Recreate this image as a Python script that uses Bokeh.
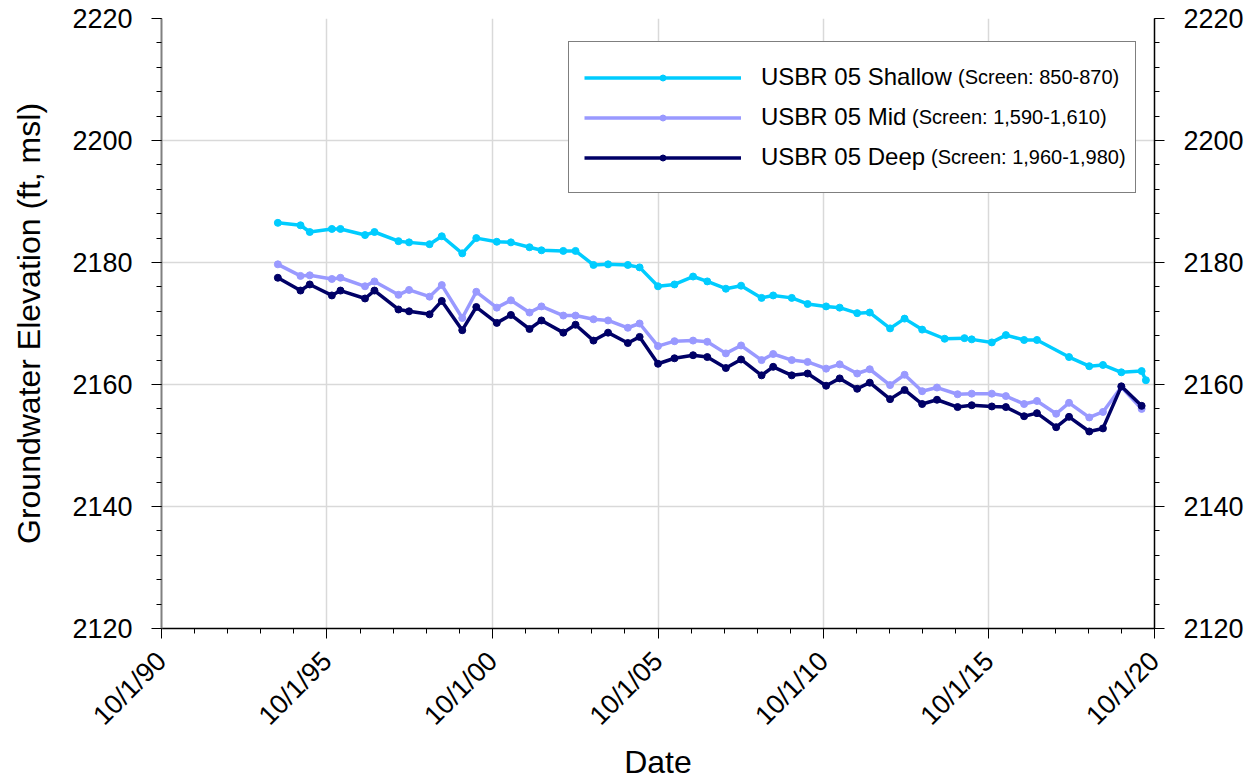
import pandas as pd
from bokeh.plotting import figure
from bokeh.models import (Range1d, LinearAxis, FixedTicker, CustomJSTickFormatter,
                          Legend, LegendItem)
from bokeh.embed import file_html
from bokeh.resources import INLINE

# --- monitoring data: USBR 05 nested piezometer, groundwater elevation (ft, msl) ---
dates_common = [
    "1994-04-07", "1994-12-13", "1995-03-25", "1995-11-24", "1996-02-27", "1996-11-24",
    "1997-03-08", "1997-11-28", "1998-03-25", "1998-11-06", "1999-03-21", "1999-11-02",
    "2000-04-05", "2000-11-17", "2001-04-22", "2001-11-13", "2002-03-25", "2002-11-21",
    "2003-04-05", "2003-10-20", "2004-03-29", "2004-11-02", "2005-03-12", "2005-10-01",
    "2006-04-01", "2006-10-23", "2007-03-29", "2007-10-20", "2008-04-05", "2008-11-17",
    "2009-03-25", "2009-10-16", "2010-04-09", "2010-10-30", "2011-03-29", "2011-10-08",
    "2012-02-24", "2012-10-05", "2013-03-14", "2013-09-24",
]
dates_shallow_tail = [
    "2014-05-30", "2015-01-04", "2015-03-25", "2015-11-02", "2016-04-05", "2016-10-23",
    "2017-03-14", "2018-03-03", "2018-10-12", "2019-03-12", "2019-10-01", "2020-05-12",
    "2020-06-28",
]
dates_deep_tail = [
    "2014-03-07", "2014-10-20", "2015-03-25", "2015-11-02", "2016-04-05", "2016-10-23",
    "2017-03-14", "2017-10-12", "2018-03-03", "2018-10-12", "2019-03-12", "2019-10-01",
    "2020-05-12",
]

shallow = [
    2186.5, 2186.1, 2185.0, 2185.5, 2185.5, 2184.5, 2185.0, 2183.5, 2183.3, 2183.0,
    2184.3, 2181.5, 2184.0, 2183.4, 2183.3, 2182.5, 2182.0, 2181.9, 2181.9, 2179.6,
    2179.7, 2179.6, 2179.2, 2176.1, 2176.4, 2177.7, 2176.9, 2175.7, 2176.2, 2174.2,
    2174.6, 2174.2, 2173.2, 2172.8, 2172.6, 2171.7, 2171.8, 2169.2, 2170.8, 2169.0,
    2167.5, 2167.6, 2167.4, 2166.9, 2168.1, 2167.3, 2167.3, 2164.5, 2163.0, 2163.2,
    2162.0, 2162.2, 2160.7,
]
mid = [
    2179.7, 2177.8, 2177.9, 2177.3, 2177.5, 2176.1, 2176.9, 2174.7, 2175.5, 2174.4,
    2176.3, 2170.9, 2175.2, 2172.6, 2173.8, 2171.8, 2172.8, 2171.3, 2171.3, 2170.7,
    2170.5, 2169.3, 2170.0, 2166.3, 2167.1, 2167.2, 2167.0, 2165.1, 2166.4, 2164.0,
    2165.0, 2164.0, 2163.7, 2162.6, 2163.3, 2161.8, 2162.5, 2159.9, 2161.6, 2158.9,
    2159.5, 2158.4, 2158.5, 2158.5, 2158.1, 2156.8, 2157.3, 2155.2, 2157.0, 2154.6,
    2155.5, 2159.6, 2156.0,
]
deep = [
    2177.5, 2175.4, 2176.4, 2174.6, 2175.4, 2174.1, 2175.4, 2172.3, 2172.0, 2171.5,
    2173.7, 2168.9, 2172.7, 2170.1, 2171.4, 2169.1, 2170.5, 2168.5, 2169.8, 2167.2,
    2168.5, 2166.8, 2167.8, 2163.4, 2164.3, 2164.8, 2164.5, 2162.7, 2164.1, 2161.5,
    2162.9, 2161.5, 2161.8, 2159.8, 2161.0, 2159.3, 2160.3, 2157.6, 2159.1, 2156.8,
    2157.5, 2156.3, 2156.6, 2156.4, 2156.3, 2154.8, 2155.3, 2153.0, 2154.7, 2152.3,
    2152.8, 2159.7, 2156.5,
]

series_names = ["USBR 05 Shallow", "USBR 05 Mid", "USBR 05 Deep"]
screen_notes = ["(Screen: 850-870)", "(Screen: 1,590-1,610)", "(Screen: 1,960-1,980)"]
series_colors = ["#00CCFF", "#9999FF", "#000066"]

tick_years = [1990, 1995, 2000, 2005, 2010, 2015, 2020]
minor_years = list(range(1990, 2021))
y_ticks = [2120, 2140, 2160, 2180, 2200, 2220]
y_minor = list(range(2120, 2221, 4))

FONT = "Liberation Sans"


def oct1_ms(year):
    return pd.Timestamp(f"{year}-10-01").value // 10**6


x_shallow = pd.to_datetime(dates_common + dates_shallow_tail)
x_lower = pd.to_datetime(dates_common + dates_deep_tail)

p = figure(
    width=1256, height=783,
    x_axis_type="datetime",
    x_range=Range1d(oct1_ms(tick_years[0]), oct1_ms(tick_years[-1])),
    y_range=Range1d(y_ticks[0], y_ticks[-1]),
    output_backend="svg", toolbar_location=None,
    min_border_left=161, min_border_right=102, min_border_top=18, min_border_bottom=154,
    background_fill_color="white", border_fill_color="white",
)
p.outline_line_color = None

# --- axes ---
x_ticker = FixedTicker(ticks=[oct1_ms(y) for y in tick_years],
                       minor_ticks=[oct1_ms(y) for y in minor_years])
y_ticker = FixedTicker(ticks=y_ticks, minor_ticks=y_minor)

xa = p.xaxis[0]
xa.ticker = x_ticker
xa.formatter = CustomJSTickFormatter(code="""
    const d = new Date(tick);
    return (d.getUTCMonth() + 1) + "/" + d.getUTCDate() + "/" + String(d.getUTCFullYear()).slice(-2);
""")
xa.major_label_orientation = 0.785398
xa.axis_label = "Date"

ya = p.yaxis[0]
ya.ticker = y_ticker
ya.axis_label = "Groundwater Elevation (ft, msl)"

yr = LinearAxis(ticker=y_ticker)
p.add_layout(yr, "right")

for ax in (xa, ya, yr):
    ax.axis_line_color = "black"
    ax.axis_line_width = 1.5
    ax.major_tick_line_color = "black"
    ax.minor_tick_line_color = "black"
    ax.major_tick_out = 10
    ax.major_tick_in = 0
    ax.minor_tick_out = 5
    ax.minor_tick_in = 0
    ax.major_label_text_font = FONT
    ax.major_label_text_font_size = "27px"
    ax.major_label_text_color = "black"
    ax.major_label_standoff = 19
    ax.axis_label_text_font = FONT
    ax.axis_label_text_font_size = "32px"
    ax.axis_label_text_font_style = "normal"
    ax.axis_label_text_color = "black"
ya.axis_line_color = "#808080"
ya.axis_line_width = 2
ya.axis_label_standoff = 22
xa.major_label_standoff = 18
xa.axis_label_standoff = 0

p.xgrid.ticker = x_ticker
p.ygrid.ticker = y_ticker
for g in (p.xgrid, p.ygrid):
    g.grid_line_color = "#d9d9d9"
    g.grid_line_width = 1.5

# --- series ---
xs = [x_shallow, x_lower, x_lower]
ys = [shallow, mid, deep]
items = []
lines = []
for name, color, xv, yv in zip(series_names, series_colors, xs, ys):
    ln = p.line(xv, yv, line_color=color, line_width=3.5)
    mk = p.scatter(xv, yv, size=7, fill_color=color, line_color=color)
    items.append(LegendItem(label=name, renderers=[ln, mk]))
    lines.append(ln)

legend = Legend(
    items=items, location=(407, 435),
    glyph_width=157, glyph_height=15, label_height=40, label_width=359,
    label_standoff=20, spacing=0, padding=15, margin=0,
    label_text_font=FONT, label_text_font_size="24px", label_text_color="black",
    border_line_color="black", border_line_width=1,
    background_fill_color="white", background_fill_alpha=1,
)
p.add_layout(legend)

# well-screen depth notes, in a smaller size after each legend entry
note_dx = [797, 751, 770]
note_dy = [531, 491, 451]
for txt, ln, dx, dy in zip(screen_notes, lines, note_dx, note_dy):
    p.add_layout(Legend(
        items=[LegendItem(label=txt, renderers=[ln])], location=(dx, dy),
        glyph_width=0, glyph_height=10, label_height=40, label_standoff=0,
        spacing=0, padding=0, margin=0,
        label_text_font=FONT, label_text_font_size="20px", label_text_color="black",
        border_line_color=None, background_fill_alpha=0,
    ))

open("out.html", "w").write(file_html(p, INLINE))
